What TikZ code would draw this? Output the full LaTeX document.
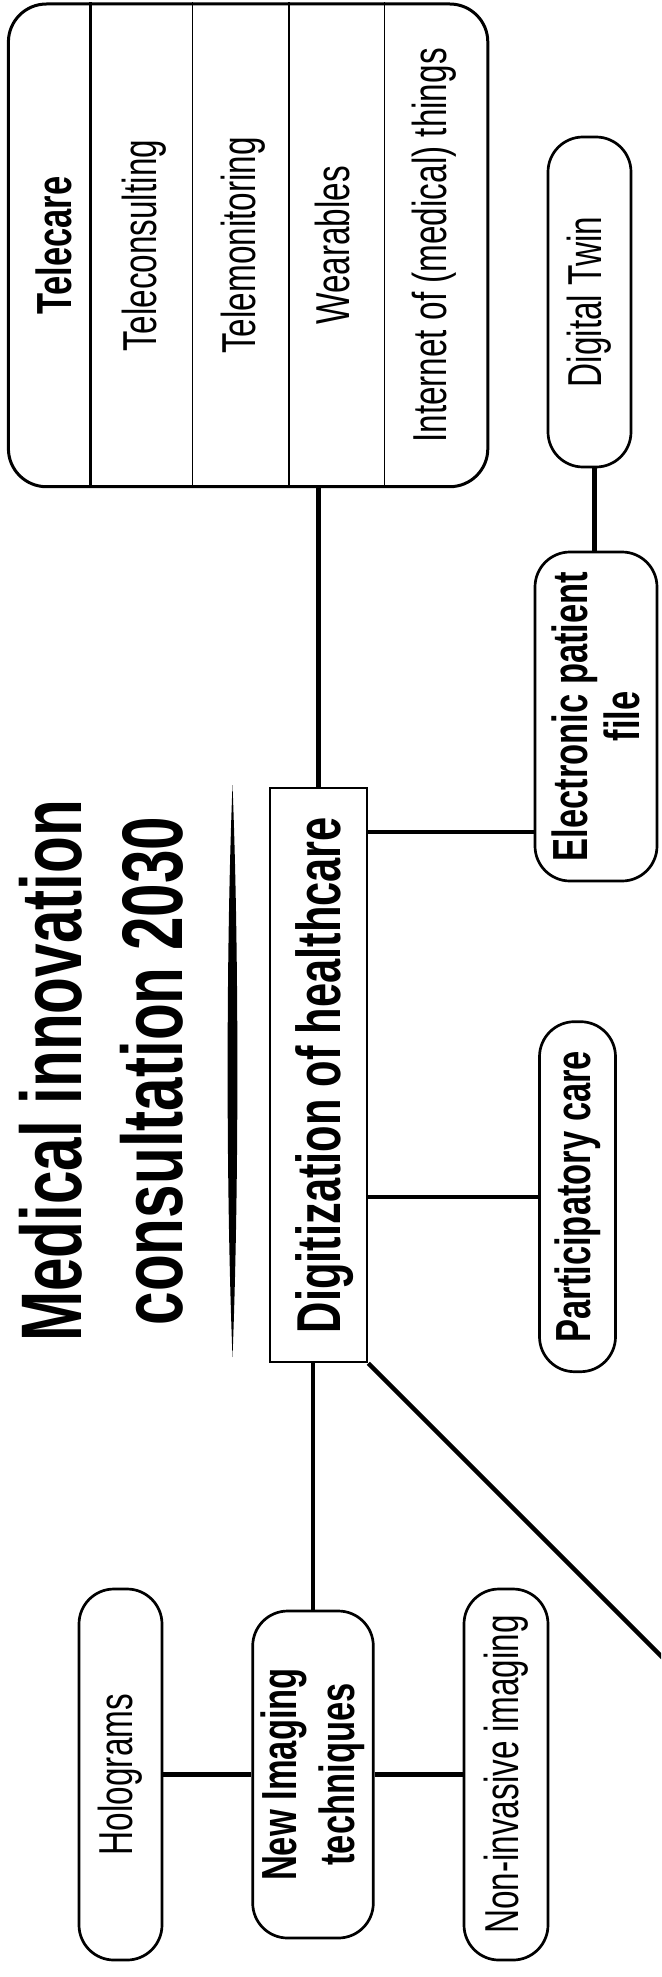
\documentclass[tikz,border=0pt]{standalone}
\usepackage{fontspec}
\setmainfont{Liberation Sans}[FakeStretch=0.7]
\begin{document}
\begin{tikzpicture}[x=1pt,y=-1pt,
  conn/.style={line width=4.3pt},
  pill/.style={draw, line width=2.7pt, rounded corners=35pt, rotate=90, inner sep=0pt, align=center, fill=white},
  reg/.style={font=\fontsize{47.6}{52}\selectfont},
  bld/.style={font=\fontsize{49.3}{52}\selectfont\bfseries},
  lbl/.style={rotate=90, inner sep=0pt}
]
\useasboundingbox (0,0) rectangle (661,1977);
\clip (0,0) rectangle (661,1977);
\fill[white] (0,0) rectangle (661,1977);

% Telecare box
\node[draw, line width=3pt, rounded corners=38pt, minimum width=479.4pt, minimum height=482.7pt, inner sep=0pt] (tele) at (248.1,245.35) {};
\coordinate (c1) at (90.6,0);
\coordinate (c2) at (192.7,0);
\coordinate (c3) at (288.8,0);
\coordinate (c4) at (384.5,0);
\draw[line width=3pt] (tele.north -| c1) -- (tele.south -| c1);
\draw[line width=1.5pt] (tele.north -| c2) -- (tele.south -| c2);
\draw[line width=1.5pt] (tele.north -| c3) -- (tele.south -| c3);
\draw[line width=1.5pt] (tele.north -| c4) -- (tele.south -| c4);
\node[lbl, bld] (tcare) at (54,245.5) {Telecare};
\node[lbl, reg] (tcons) at (144,245.5) {Teleconsulting};
\node[lbl, reg] (tmon) at (242.7,245.5) {Telemonitoring};
\node[lbl, reg] (wear) at (332,245.5) {Wearables};
\node[lbl, reg] (iot) at (434,245.5) {Internet of (medical) things};

% Title
\node[lbl, align=center, font=\fontsize{86}{101}\selectfont\bfseries] (title) at (101,1071) {Medical innovation\\consultation 2030};
\fill (232.5,785) .. controls (239,950) and (239,1190) .. (232.5,1357) .. controls (226,1190) and (226,950) .. (232.5,785) -- cycle;

% Central box
\node[draw, line width=2.5pt, rotate=90, minimum width=574pt, minimum height=97pt, inner sep=0pt, text depth=0pt, font=\fontsize{62}{66}\selectfont\bfseries] (dig) at (318.5,1075) {Digitization of healthcare};

% Pills
\node[pill, bld, minimum width=329pt, minimum height=122pt] (epf) at (596,716.5) {Electronic patient\\file};
\node[pill, reg, minimum width=330pt, minimum height=83pt] (dt) at (589.5,302) {Digital Twin};
\node[pill, bld, minimum width=350pt, minimum height=76pt] (part) at (577.5,1196.7) {Participatory care};
\node[pill, minimum width=327pt, minimum height=120.6pt, font=\fontsize{49.3}{58}\selectfont\bfseries] (img) at (313,1774.5) {New Imaging\\techniques};
\node[pill, reg, minimum width=371pt, minimum height=83pt] (holo) at (120.5,1774.5) {Holograms};
\node[pill, reg, minimum width=371pt, minimum height=84pt] (noninv) at (506,1774.5) {Non-invasive imaging};

% Connectors
\coordinate (yEPF) at (0,832);
\coordinate (xDT) at (594.5,0);
\coordinate (off) at (697,1692);
\draw[conn] (tele.south -| dig.center) -- (dig.east);
\draw[conn] (dig.south |- yEPF) -- (epf.north |- yEPF);
\draw[conn] (dt.west -| xDT) -- (epf.east -| xDT);
\draw[conn] (dig.south |- part.center) -- (part.north);
\draw[conn] (dig.west -| img.center) -- (img.east);
\draw[conn] (holo.south) -- (img.north);
\draw[conn] (img.south) -- (noninv.north);
\draw[conn] (dig.south west) -- (off);
\end{tikzpicture}
\end{document}
